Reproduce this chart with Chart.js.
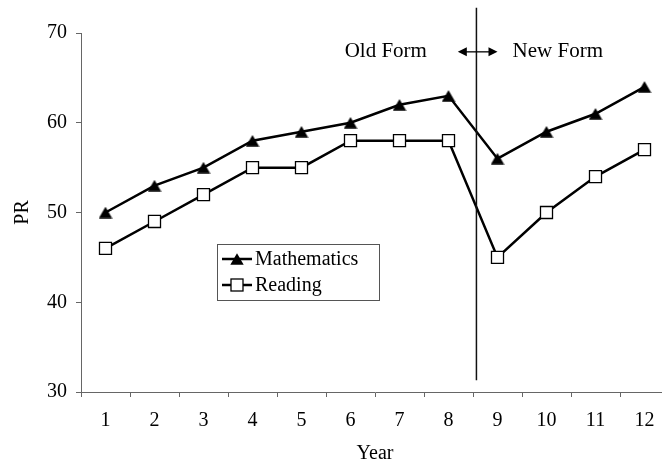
<!DOCTYPE html>
<html>
<head>
<meta charset="utf-8">
<script src="https://cdn.jsdelivr.net/npm/chart.js@4/dist/chart.umd.min.js"></script>
<style>
  html, body { margin: 0; padding: 0; overflow: hidden; background: #fff; width: 662px; height: 465px; }
  canvas { display: block; }
</style>
</head>
<body>
<canvas id="c" width="680" height="465"></canvas>
<script>
const years = ['1','2','3','4','5','6','7','8','9','10','11','12'];
const mathematics = [50, 53, 55, 58, 59, 60, 62, 63, 56, 59, 61, 64];
const reading = [46, 49, 52, 55, 55, 58, 58, 58, 45, 50, 54, 57];
const yTicks = [30, 40, 50, 60, 70];
const seriesNames = ['Mathematics', 'Reading'];
const formLabels = ['Old Form', 'New Form'];

const FONT = '"Liberation Serif", "Times New Roman", serif';

// centred filled triangle marker
const tri = document.createElement('canvas');
tri.width = 14; tri.height = 12;
(function () {
  const t = tri.getContext('2d');
  t.fillStyle = '#000';
  t.beginPath();
  t.moveTo(7, 0.3); t.lineTo(13.7, 11.7); t.lineTo(0.3, 11.7); t.closePath();
  t.fill();
})();

const annotationPlugin = {
  id: 'forms',
  afterDraw(chart) {
    const ctx = chart.ctx;
    const x = chart.scales.x, y = chart.scales.y;
    ctx.save();
    // vertical divider between year 8 and 9
    const xd = x.getPixelForValue(7.57);
    ctx.strokeStyle = '#111';
    ctx.lineWidth = 1.5;
    ctx.beginPath();
    ctx.moveTo(xd, y.getPixelForValue(72.8));
    ctx.lineTo(xd, y.getPixelForValue(31.3));
    ctx.stroke();
    // labels
    ctx.fillStyle = '#000';
    ctx.font = '21px ' + FONT;
    ctx.textAlign = 'center';
    ctx.textBaseline = 'middle';
    const ly = y.getPixelForValue(67.9);
    ctx.fillText(formLabels[0], x.getPixelForValue(5.72), ly);
    ctx.fillText(formLabels[1], x.getPixelForValue(9.23), ly);
    // double arrow
    const ax1 = x.getPixelForValue(7.19), ax2 = x.getPixelForValue(8.0);
    ctx.lineWidth = 1.3;
    ctx.strokeStyle = '#000';
    ctx.beginPath();
    ctx.moveTo(ax1 + 5, ly); ctx.lineTo(ax2 - 5, ly); ctx.stroke();
    ctx.beginPath();
    ctx.moveTo(ax1, ly); ctx.lineTo(ax1 + 9, ly - 4.5); ctx.lineTo(ax1 + 9, ly + 4.5); ctx.closePath(); ctx.fill();
    ctx.beginPath();
    ctx.moveTo(ax2, ly); ctx.lineTo(ax2 - 9, ly - 4.5); ctx.lineTo(ax2 - 9, ly + 4.5); ctx.closePath(); ctx.fill();

    // legend box
    const ca = chart.chartArea;
    const bx = ca.left + 136, by = ca.top + 211, bw = 162, bh = 56;
    ctx.strokeStyle = '#555';
    ctx.lineWidth = 1;
    ctx.strokeRect(bx + 0.5, by + 0.5, bw, bh);
    ctx.font = '20px ' + FONT;
    ctx.textAlign = 'left';
    ctx.textBaseline = 'middle';
    const rows = [by + 15, by + 41];
    rows.forEach((ry, i) => {
      ctx.strokeStyle = '#000';
      ctx.lineWidth = 2.5;
      ctx.beginPath();
      ctx.moveTo(bx + 5, ry); ctx.lineTo(bx + 35, ry); ctx.stroke();
      const mx = bx + 20;
      if (i === 0) {
        ctx.drawImage(tri, mx - 7, ry - 6);
      } else {
        ctx.fillStyle = '#fff';
        ctx.lineWidth = 1.3;
        ctx.fillRect(mx - 6, ry - 6, 12, 12);
        ctx.strokeRect(mx - 6, ry - 6, 12, 12);
      }
      ctx.fillStyle = '#000';
      ctx.fillText(seriesNames[i], bx + 38, ry + 1);
    });
    ctx.restore();
  }
};

new Chart(document.getElementById('c'), {
  type: 'line',
  data: {
    labels: years,
    datasets: [
      {
        label: seriesNames[0],
        data: mathematics,
        borderColor: '#000',
        borderWidth: 2.5,
        backgroundColor: '#000',
        pointStyle: tri,
        pointRadius: 7,
        tension: 0
      },
      {
        label: seriesNames[1],
        data: reading,
        borderColor: '#000',
        borderWidth: 2.5,
        backgroundColor: '#fff',
        pointStyle: 'rect',
        pointRadius: 8.5,
        pointBorderWidth: 1.3,
        pointBackgroundColor: '#fff',
        pointBorderColor: '#000',
        tension: 0
      }
    ]
  },
  options: {
    responsive: false,
    animation: false,
    events: [],
    layout: { padding: { left: 0, top: 33, right: 11, bottom: 0 } },
    plugins: { legend: { display: false }, tooltip: { enabled: false } },
    scales: {
      x: {
        offset: true,
        grid: { offset: true, drawOnChartArea: false, drawTicks: true, tickLength: 5, color: '#666', lineWidth: 1 },
        border: { display: true, color: '#666', width: 1 },
        ticks: { color: '#000', font: { family: FONT, size: 20 }, padding: 12, maxRotation: 0, autoSkip: false },
        title: { display: true, text: 'Year', color: '#000', font: { family: FONT, size: 20, lineHeight: 1.1 }, padding: { top: 0, bottom: 0 } },
        afterFit(s) { s.height = 73; }
      },
      y: {
        min: 30, max: 70,
        afterBuildTicks(s) { s.ticks = yTicks.map(v => ({ value: v })); },
        grid: { drawOnChartArea: false, drawTicks: true, tickLength: 5, color: '#666', lineWidth: 1 },
        border: { display: true, color: '#666', width: 1 },
        ticks: { color: '#000', font: { family: FONT, size: 20 }, padding: 9 },
        title: { display: true, text: 'PR', color: '#000', font: { family: FONT, size: 20, lineHeight: 1.2 }, padding: { top: 11, bottom: 0 } },
        afterFit(s) { s.width = 81; }
      }
    }
  },
  plugins: [annotationPlugin]
});
</script>
</body>
</html>
